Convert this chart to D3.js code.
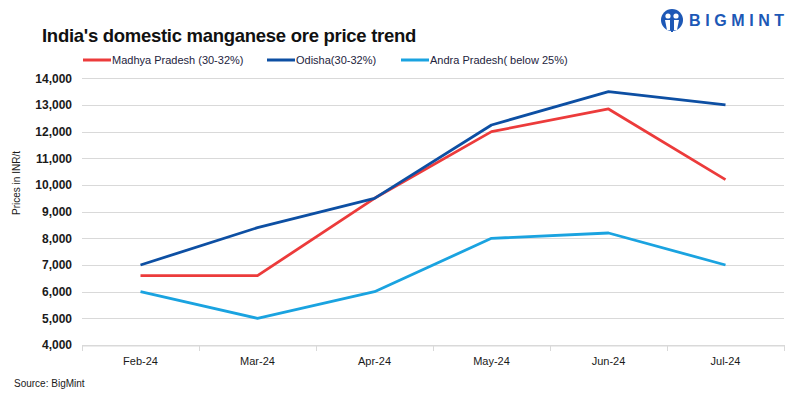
<!DOCTYPE html>
<html>
<head>
<meta charset="utf-8">
<script src="https://cdn.jsdelivr.net/npm/d3@7"></script>
<style>
  body { margin: 0; background: #fff; }
  svg { display: block; font-family: "Liberation Sans", Arial, sans-serif; }
</style>
</head>
<body>
<svg width="800" height="398"></svg>
<script>

// chart data
var months = ["Feb-24", "Mar-24", "Apr-24", "May-24", "Jun-24", "Jul-24"];
var madhya = [6600, 6600, 9500, 12000, 12850, 10200];
var odisha = [7000, 8400, 9500, 12250, 13500, 13000];
var andhra = [6000, 5000, 6000, 8000, 8200, 7000];
var seriesNames = ["Madhya Pradesh (30-32%)", "Odisha(30-32%)", "Andra Pradesh( below 25%)"];
var yTicks = [4000, 5000, 6000, 7000, 8000, 9000, 10000, 11000, 12000, 13000, 14000];

var colors = ["#ec3b3b", "#0d4fa3", "#1aa3e0"];
var allSeries = [madhya, odisha, andhra];

var svg = d3.select("svg");

var x = d3.scaleBand()
  .domain(months)
  .range([82, 784]);

var y = d3.scaleLinear()
  .domain([4000, 14000])
  .range([345, 78.3]);

// gridlines
svg.append("g")
  .selectAll("line")
  .data(yTicks)
  .enter()
  .append("line")
  .attr("x1", 82)
  .attr("x2", 784)
  .attr("y1", function(d) { return Math.round(y(d)) + 0.5; })
  .attr("y2", function(d) { return Math.round(y(d)) + 0.5; })
  .attr("stroke", "#d9d9d9")
  .attr("stroke-width", 1);

// y axis labels
var yAxis = d3.axisLeft(y)
  .tickValues(yTicks)
  .tickSize(0)
  .tickPadding(10)
  .tickFormat(d3.format(","));

var yg = svg.append("g")
  .attr("transform", "translate(82,0)")
  .call(yAxis);
yg.select(".domain").remove();
yg.selectAll("text")
  .attr("font-family", "'Liberation Sans', Arial, sans-serif")
  .attr("font-size", 12)
  .attr("font-weight", "bold")
  .attr("fill", "#1a1a1a");

// x axis
var xAxis = d3.axisBottom(x)
  .tickSize(0)
  .tickPadding(12);

var xg = svg.append("g")
  .attr("transform", "translate(0,345.5)")
  .call(xAxis);
xg.select(".domain").attr("stroke", "#d9d9d9");
xg.selectAll("text")
  .attr("font-family", "'Liberation Sans', Arial, sans-serif")
  .attr("font-size", 11)
  .attr("fill", "#1a1a1a");

// tick marks between categories
var bounds = months.map(function(m) { return x(m); }).concat([x.range()[1]]);
svg.append("g")
  .selectAll("line")
  .data(bounds)
  .enter()
  .append("line")
  .attr("x1", function(d) { return Math.round(d) + 0.5; })
  .attr("x2", function(d) { return Math.round(d) + 0.5; })
  .attr("y1", 345)
  .attr("y2", 351)
  .attr("stroke", "#d9d9d9");

// lines
var line = d3.line()
  .x(function(d, i) { return x(months[i]) + x.bandwidth() / 2; })
  .y(function(d) { return y(d); });

svg.append("g")
  .selectAll("path")
  .data(allSeries)
  .enter()
  .append("path")
  .attr("d", line)
  .attr("fill", "none")
  .attr("stroke", function(d, i) { return colors[i]; })
  .attr("stroke-width", 2.8)
  .attr("stroke-linejoin", "round");

// legend
var legendX = [83, 267, 401];
var lg = svg.append("g")
  .selectAll("g")
  .data(seriesNames)
  .enter()
  .append("g")
  .attr("transform", function(d, i) { return "translate(" + legendX[i] + ",60)"; });
lg.append("line")
  .attr("x1", 0)
  .attr("x2", 28)
  .attr("stroke", function(d, i) { return colors[i]; })
  .attr("stroke-width", 3);
lg.append("text")
  .attr("x", 29)
  .attr("y", 4)
  .attr("font-size", 11)
  .attr("fill", "#23233d")
  .text(function(d) { return d; });

// title
svg.append("text")
  .attr("x", 42)
  .attr("y", 42)
  .attr("font-size", 18.5)
  .attr("font-weight", "bold")
  .attr("letter-spacing", -0.28)
  .attr("fill", "#111")
  .text("India's domestic manganese ore price trend");

// y axis title
svg.append("text")
  .attr("transform", "translate(20,183) rotate(-90)")
  .attr("text-anchor", "middle")
  .attr("font-size", 10)
  .attr("fill", "#1a1a1a")
  .text("Prices in INR/t");

// source
svg.append("text")
  .attr("x", 14)
  .attr("y", 387)
  .attr("font-size", 10)
  .attr("fill", "#1a1a1a")
  .text("Source: BigMint");

// logo
var logo = svg.append("g").attr("transform", "translate(672,20)");
logo.append("circle").attr("r", 11).attr("fill", "#1d58b6");
logo.append("circle").attr("cx", -4).attr("cy", -4).attr("r", 2.6).attr("fill", "#fff");
logo.append("circle").attr("cx", 4).attr("cy", -4).attr("r", 2.6).attr("fill", "#fff");
logo.append("path")
  .attr("d", "M-7,0 L-2,0 L-2,10 L-5,10 Z M7,0 L2,0 L2,10 L5,10 Z")
  .attr("fill", "#fff");
logo.append("path")
  .attr("d", "M-1,1 L1,1 L1,12 L-1,12 Z")
  .attr("fill", "#1d58b6");
svg.append("text")
  .attr("x", 689)
  .attr("y", 26)
  .attr("font-size", 16)
  .attr("font-weight", "bold")
  .attr("letter-spacing", 4.6)
  .attr("fill", "#1d58b6")
  .text("BIGMINT");

</script>
</body>
</html>
